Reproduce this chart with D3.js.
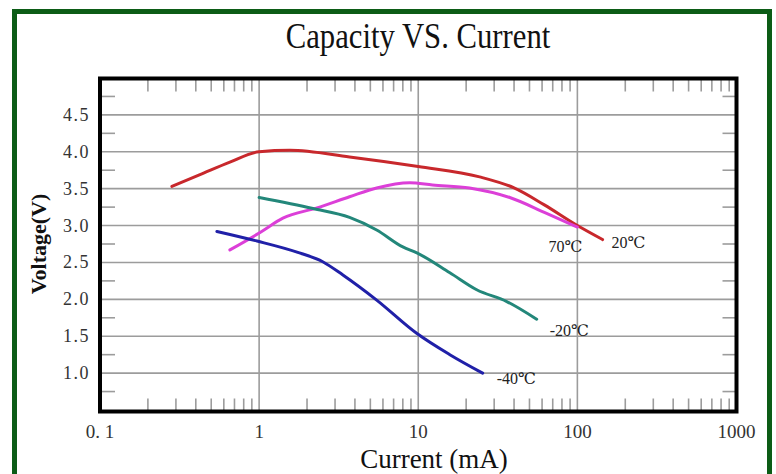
<!DOCTYPE html>
<html>
<head>
<meta charset="utf-8">
<script src="https://cdn.jsdelivr.net/npm/d3@7"></script>
<style>
    body { margin: 0; background: #fff; }
    text { font-family: "Liberation Serif", "DejaVu Serif", serif; }
</style>
</head>
<body>
<div id="chart"></div>
<script>
// values: [current mA, voltage V]
const curve20 = [[0.283, 3.53], [0.425, 3.69], [0.655, 3.86], [1.0, 4.0], [1.56, 4.02], [3.7, 3.93],
    [10, 3.80], [24.3, 3.66], [40, 3.51], [62, 3.28], [100, 3.0], [144, 2.81]];
const curve70 = [[0.655, 2.67], [1.02, 2.91], [1.41, 3.10], [2.31, 3.24], [3.7, 3.39], [5.48, 3.51],
    [8.85, 3.58], [12.3, 3.55], [21, 3.51], [37.6, 3.38], [62, 3.18], [100, 2.98]];
const curveM20 = [[1.0, 3.38], [2.18, 3.23], [3.7, 3.11], [5.48, 2.94], [8.0, 2.71], [9.8, 2.63],
    [15.8, 2.36], [23.3, 2.13], [36, 1.97], [55.5, 1.73]];
const curveM40 = [[0.543, 2.92], [0.97, 2.79], [1.73, 2.64], [2.51, 2.51], [3.36, 2.33], [5.48, 1.99],
    [9.77, 1.54], [15.8, 1.25], [25.4, 1.0]];

const series = [
    {name: "20℃", values: curve20, color: "#c8282c", label: [144, 2.81], dx: 9, dy: 8},
    {name: "70℃", values: curve70, color: "#dc3fd8", label: [100, 2.98], dx: -29, dy: 25},
    {name: "-20℃", values: curveM20, color: "#23877a", label: [55.5, 1.73], dx: 13, dy: 17},
    {name: "-40℃", values: curveM40, color: "#2020a8", label: [25.4, 1.0], dx: 14, dy: 11}
];

const xTicks = [0.1, 1, 10, 100, 1000];
const xTickLabels = ["0. 1", "1", "10", "100", "1000"];
const yTicks = [1.0, 1.5, 2.0, 2.5, 3.0, 3.5, 4.0, 4.5];
const yMinor = [0.75, 1.25, 1.75, 2.25, 2.75, 3.25, 3.75, 4.25, 4.75];

const W = 776, H = 474;
const frame = {left: 100, top: 78.5, right: 736.5, bottom: 411.5};

const svg = d3.select("#chart").append("svg")
    .attr("width", W)
    .attr("height", H);

// green outer border
svg.append("rect")
    .attr("x", 14.5).attr("y", 11.5)
    .attr("width", 755).attr("height", 500)
    .attr("fill", "none")
    .attr("stroke", "#0c5c16")
    .attr("stroke-width", 5);

const x = d3.scaleLog()
    .domain([0.1, 1000])
    .range([frame.left, frame.right]);

const y = d3.scaleLinear()
    .domain([0.5, 5.0])
    .range([410, 78]);

const grid = svg.append("g").attr("stroke", "#9c9c9c").attr("stroke-width", 1.6);

// horizontal grid
grid.selectAll(".hg")
    .data(yTicks)
    .enter().append("line")
    .attr("x1", frame.left).attr("x2", frame.right)
    .attr("y1", d => y(d)).attr("y2", d => y(d));

// vertical grid at decades
grid.selectAll(".vg")
    .data([1, 10, 100])
    .enter().append("line")
    .attr("x1", d => x(d)).attr("x2", d => x(d))
    .attr("y1", frame.top).attr("y2", frame.bottom);

// minor x ticks top and bottom
const minorX = [];
[0.1, 1, 10, 100].forEach(dec => {
    for (let k = 2; k <= 9; k++) minorX.push(dec * k);
});
grid.selectAll(".mt")
    .data(minorX)
    .enter().append("line")
    .attr("x1", d => x(d)).attr("x2", d => x(d))
    .attr("y1", frame.top).attr("y2", frame.top + 13);
grid.selectAll(".mb")
    .data(minorX)
    .enter().append("line")
    .attr("x1", d => x(d)).attr("x2", d => x(d))
    .attr("y1", frame.bottom).attr("y2", frame.bottom - 13);

// minor y ticks left and right
grid.selectAll(".ml")
    .data(yMinor)
    .enter().append("line")
    .attr("x1", frame.left).attr("x2", frame.left + 15)
    .attr("y1", d => y(d)).attr("y2", d => y(d));
grid.selectAll(".mr")
    .data(yMinor)
    .enter().append("line")
    .attr("x1", frame.right).attr("x2", frame.right - 14)
    .attr("y1", d => y(d)).attr("y2", d => y(d));

// curves
const line = d3.line()
    .x(d => x(d[0]))
    .y(d => y(d[1]))
    .curve(d3.curveMonotoneX);

svg.selectAll(".curve")
    .data(series)
    .enter().append("path")
    .attr("class", "curve")
    .attr("d", d => line(d.values))
    .attr("fill", "none")
    .attr("stroke", d => d.color)
    .attr("stroke-width", 3)
    .attr("stroke-linecap", "round");

svg.selectAll(".clabel")
    .data(series)
    .enter().append("text")
    .attr("x", d => x(d.label[0]) + d.dx)
    .attr("y", d => y(d.label[1]) + d.dy)
    .attr("font-size", 16)
    .attr("fill", "#222")
    .text(d => d.name);

// black frame
svg.append("rect")
    .attr("x", frame.left).attr("y", frame.top)
    .attr("width", frame.right - frame.left)
    .attr("height", frame.bottom - frame.top)
    .attr("fill", "none")
    .attr("stroke", "#000")
    .attr("stroke-width", 4);

// tick labels
svg.selectAll(".xl")
    .data(xTicks)
    .enter().append("text")
    .attr("x", d => x(d))
    .attr("y", 438)
    .attr("text-anchor", "middle")
    .attr("font-size", 19)
    .attr("fill", "#333")
    .text((d, i) => xTickLabels[i]);

svg.selectAll(".yl")
    .data(yTicks)
    .enter().append("text")
    .attr("x", 90)
    .attr("y", d => y(d) + 6)
    .attr("text-anchor", "end")
    .attr("font-size", 18)
    .attr("letter-spacing", 1.5)
    .attr("fill", "#333")
    .text(d => d.toFixed(1));

// titles
svg.append("text")
    .attr("transform", "translate(418,48) scale(0.96,1.1)")
    .attr("text-anchor", "middle")
    .attr("font-size", 32)
    .attr("fill", "#111")
    .text("Capacity VS. Current");

svg.append("text")
    .attr("x", 434).attr("y", 468)
    .attr("text-anchor", "middle")
    .attr("font-size", 27)
    .attr("fill", "#111")
    .text("Current (mA)");

svg.append("text")
    .attr("transform", "translate(46,244) rotate(-90)")
    .attr("text-anchor", "middle")
    .attr("font-size", 22)
    .attr("font-weight", "bold")
    .attr("fill", "#111")
    .text("Voltage(V)");
</script>
</body>
</html>
